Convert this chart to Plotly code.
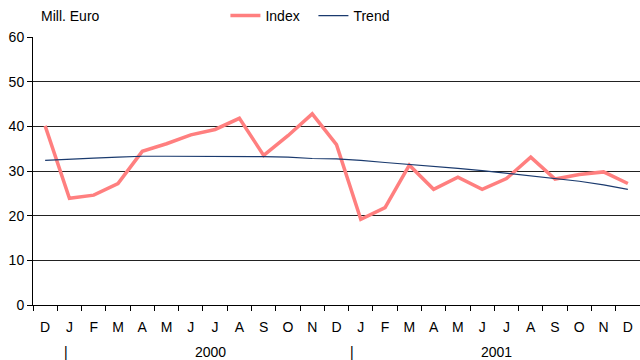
import plotly.graph_objects as go

# ---------------------------------------------------------------------------
# Data
# ---------------------------------------------------------------------------

MONTHS = ["D", "J", "F", "M", "A", "M", "J", "J", "A", "S", "O", "N",
          "D", "J", "F", "M", "A", "M", "J", "J", "A", "S", "O", "N", "D"]

INDEX = [40.1, 23.9, 24.6, 27.2, 34.4, 36.1, 38.1, 39.3, 41.8, 33.5, 37.9, 42.8,
         35.9, 19.2, 21.8, 31.3, 25.9, 28.6, 25.9, 28.3, 33.1, 28.2, 29.2, 29.8, 27.2]

TREND = [32.4, 32.7, 32.9, 33.1, 33.3, 33.3, 33.3, 33.3, 33.3, 33.2, 33.1, 32.8,
         32.7, 32.4, 31.9, 31.5, 31.1, 30.6, 30.1, 29.5, 29.0, 28.4, 27.7, 26.9, 25.9]

YEARS = ["2000", "2001"]
YEAR_CENTRE = [6.8, 18.6]      # where each year label sits on the x scale
YEAR_DIVIDER = [0.85, 12.65]   # the "|" marks under the first January

INDEX_COLOR = "#ff7f7f"
TREND_COLOR = "#1a3a6e"
FONT = "Liberation Sans, Arial, sans-serif"
FONT_SIZE = 14

x = list(range(len(MONTHS)))

fig = go.Figure()
fig.add_trace(go.Scatter(
    x=x, y=INDEX, mode="lines", name="Index",
    line=dict(color=INDEX_COLOR, width=3.5),
))
fig.add_trace(go.Scatter(
    x=x, y=TREND, mode="lines", name="Trend",
    line=dict(color=TREND_COLOR, width=1.2),
))

annotations = [dict(
    text="Mill. Euro", xref="paper", yref="paper", x=0.01, y=1.078,
    xanchor="left", yanchor="middle", showarrow=False,
    font=dict(size=FONT_SIZE, color="#000"),
)]
for label, pos in zip(YEARS, YEAR_CENTRE):
    annotations.append(dict(
        text=label, xref="x", yref="paper", x=pos, y=-0.175,
        xanchor="center", yanchor="middle", showarrow=False,
        font=dict(size=FONT_SIZE, color="#000"),
    ))
for pos in YEAR_DIVIDER:
    annotations.append(dict(
        text="|", xref="x", yref="paper", x=pos, y=-0.175,
        xanchor="center", yanchor="middle", showarrow=False,
        font=dict(size=FONT_SIZE, color="#000"),
    ))

fig.update_layout(
    width=640, height=360,
    margin=dict(l=33, r=0, t=36, b=55),
    paper_bgcolor="white", plot_bgcolor="white",
    font=dict(family=FONT, size=FONT_SIZE, color="#000"),
    showlegend=True,
    legend=dict(
        orientation="h", x=0.317, y=1.078, xanchor="left", yanchor="middle",
        bgcolor="rgba(0,0,0,0)", font=dict(size=FONT_SIZE), itemwidth=30,
        entrywidth=43, tracegroupgap=0,
    ),
    annotations=annotations,
)

fig.update_xaxes(
    range=[-0.5, len(MONTHS) - 0.5],
    tickmode="array", tickvals=x, ticktext=MONTHS,
    ticks="", showgrid=False, zeroline=False,
    showline=True, linecolor="#000", linewidth=1,
    ticklabelstandoff=9, automargin=False,
    minor=dict(ticks="outside", tick0=-0.5, dtick=1, ticklen=5,
               tickcolor="#000", showgrid=False),
)
fig.update_yaxes(
    range=[0, 60], dtick=10, tick0=0,
    ticks="outside", ticklen=5, tickcolor="#000",
    showgrid=True, gridcolor="#222", gridwidth=1, automargin=False,
    zeroline=False, showline=True, linecolor="#000", linewidth=1,
)

# drop the browser's default 8px body margin so the figure sits at the corner
fig.write_html("out.html", config={"displayModeBar": False},
               post_script="document.body.style.margin='0';")
